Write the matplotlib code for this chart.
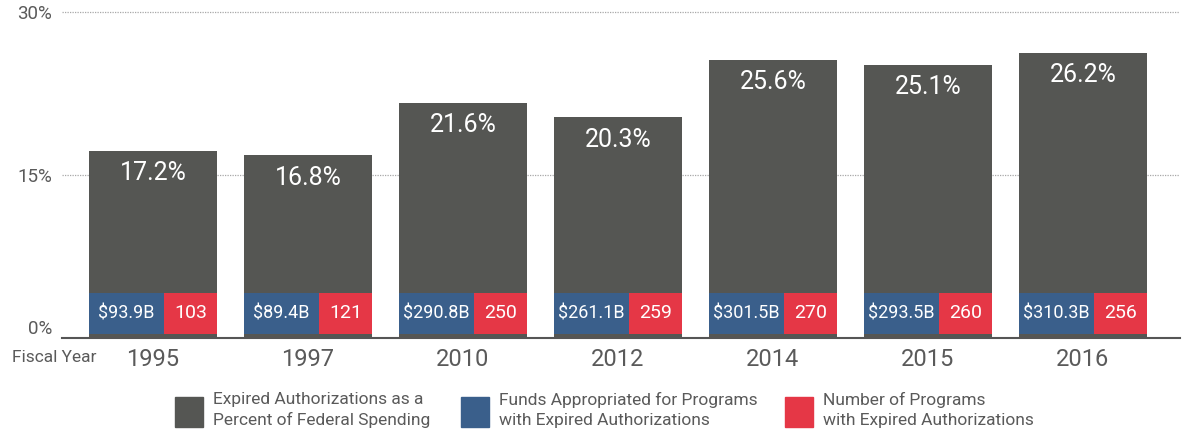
import matplotlib.pyplot as plt
from matplotlib.patches import Rectangle

plt.rcParams['font.family'] = ['Roboto', 'DejaVu Sans']

years = ['1995', '1997', '2010', '2012', '2014', '2015', '2016']
pct_spending = [17.2, 16.8, 21.6, 20.3, 25.6, 25.1, 26.2]  # % of federal spending
funds = ['$93.9B', '$89.4B', '$290.8B', '$261.1B', '$301.5B', '$293.5B', '$310.3B']
num_programs = [103, 121, 250, 259, 270, 260, 256]

dark = '#555653'
blue = '#3a5f8b'
red = '#e53746'
grey_txt = '#5a5a5a'

fig = plt.figure(figsize=(11.82, 4.32), dpi=100)
ax = fig.add_axes([62 / 1182, 1 - 338 / 432, (1180 - 62) / 1182, 337 / 432])

x = list(range(len(years)))
w = 0.826  # bar width
bw = w * 0.586  # blue part of the label strip

ax.bar(x, pct_spending, width=w, color=dark, zorder=2)

# label strip inside each bar (blue = funds, red = number of programs)
strip_lo, strip_hi = 0.37, 4.14
for i in x:
    left = i - w / 2
    ax.bar(left + bw / 2, strip_hi - strip_lo, bottom=strip_lo, width=bw, color=blue, zorder=3)
    ax.bar(left + bw + (w - bw) / 2, strip_hi - strip_lo, bottom=strip_lo, width=w - bw, color=red, zorder=3)
    ym = (strip_lo + strip_hi) / 2
    ax.text(left + bw / 2, ym, funds[i], ha='center', va='center', color='white', fontsize=13, zorder=4)
    ax.text(left + bw + (w - bw) / 2, ym, str(num_programs[i]), ha='center', va='center',
            color='white', fontsize=14, zorder=4)
    ax.annotate(f'{pct_spending[i]}%', (i, pct_spending[i]), xytext=(0, -16), textcoords='offset points',
                ha='center', va='center', color='white', fontsize=18, zorder=4)

ax.set_xlim(-0.587, 6.626)
ax.set_ylim(0, 31)

for g in [15, 30]:
    ax.axhline(g, color='#a8a8a8', lw=0.9, ls=(0, (1, 1)), zorder=1)

ax.set_yticks([0, 15, 30])
ax.set_yticklabels(['0%', '15%', '30%'])
ax.get_yticklabels()[0].set_va('bottom')
ax.set_xticks(x)
ax.set_xticklabels(years)
ax.tick_params(axis='y', length=0, pad=7, labelsize=13.5, labelcolor=grey_txt)
ax.tick_params(axis='x', length=0, pad=7, labelsize=17, labelcolor=grey_txt)

for s in ['top', 'right', 'left']:
    ax.spines[s].set_visible(False)
ax.spines['bottom'].set_color('#555555')
ax.spines['bottom'].set_linewidth(1.5)
ax.spines['bottom'].set_zorder(5)

fig.text(12 / 1182, 1 - 357 / 432, 'Fiscal Year', ha='left', va='center', fontsize=12.5, color=grey_txt)

# legend, drawn by hand
legend_items = [
    (175, dark, 'Expired Authorizations as a\nPercent of Federal Spending'),
    (461, blue, 'Funds Appropriated for Programs\nwith Expired Authorizations'),
    (785, red, 'Number of Programs\nwith Expired Authorizations'),
]
for px, col, lab in legend_items:
    fig.add_artist(Rectangle((px / 1182, 1 - 427 / 432), 28 / 1182, 30 / 432,
                             transform=fig.transFigure, color=col))
    fig.text((px + 38) / 1182, 1 - 410 / 432, lab, ha='left', va='center', fontsize=12.5,
             color=grey_txt, linespacing=1.35)

fig.savefig('out.png', dpi=100)
